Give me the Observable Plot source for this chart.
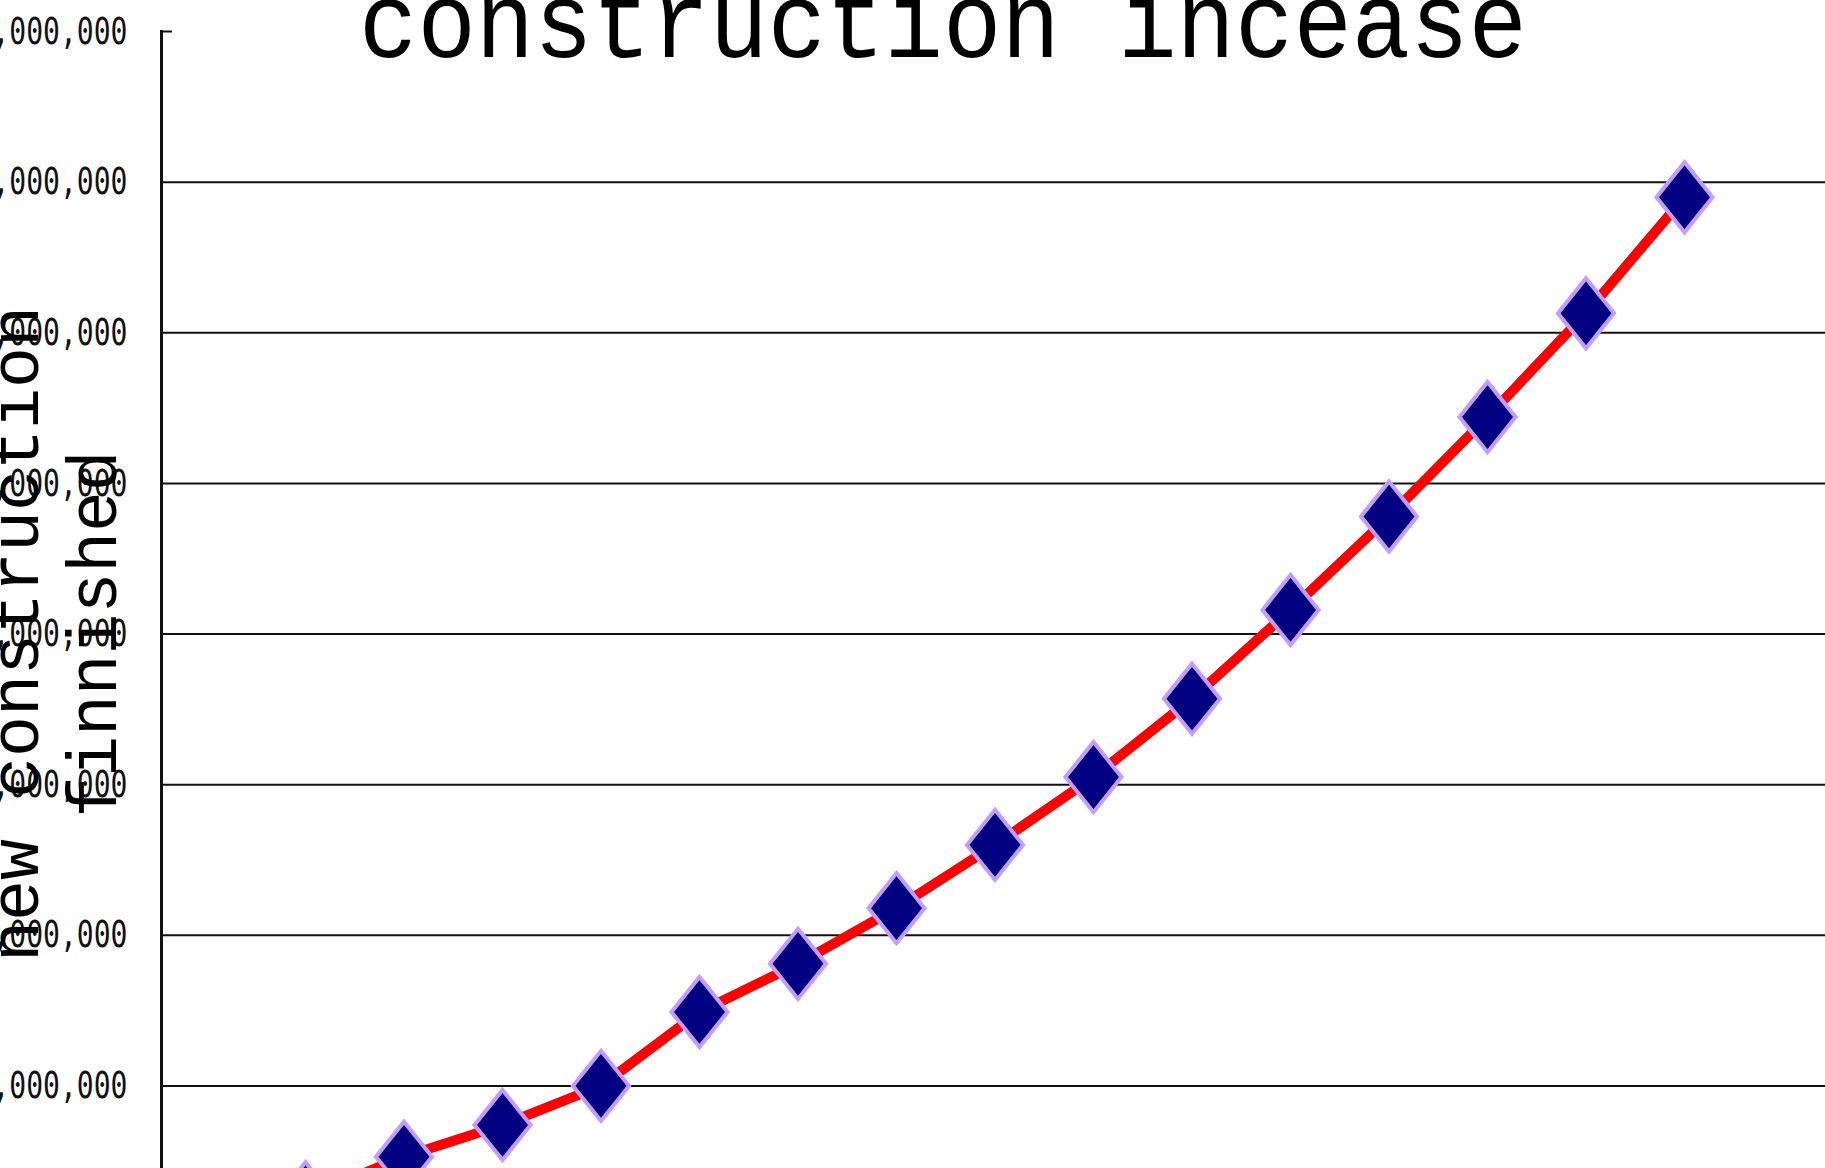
<!DOCTYPE html>
<html><head><meta charset="utf-8">
<script src="https://cdn.jsdelivr.net/npm/d3@7"></script>
<script src="https://cdn.jsdelivr.net/npm/@observablehq/plot@0.6"></script>
<style>
html,body{margin:0;padding:0;background:#fff;}
#wrap{position:relative;width:1825px;height:1168px;overflow:hidden;background:#fff;}
#wrap svg{position:absolute;left:-100px;top:-100px;max-width:none !important;}
</style></head><body><div id="wrap"></div>
<script>
// categories (periods; their labels are cropped out of the picture)
const periods = [1, 2, 3, 4, 5, 6, 7, 8, 9, 10, 11, 12, 13, 14, 15];
// new construction finished
const finished = [260000, 530000, 740000, 1000000, 1490000, 1810000, 2180000, 2600000,
                  3050000, 3570000, 4160000, 4780000, 5440000, 6130000, 6900000];
// y tick values
const yTicks = [1000000, 2000000, 3000000, 4000000, 5000000, 6000000, 7000000, 8000000];
const gridValues = [1000000, 2000000, 3000000, 4000000, 5000000, 6000000, 7000000];
const titleText = "construction incease";
const yTitleLines = ["new construction", "finnished"];

const data = periods.map((p, i) => ({period: p, value: finished[i]}));

const W = 1930, H = 1340, ML = 261, MT = 131, MR = 0, MB = 4;
const diamond = {
  draw(ctx, size) {
    const h = Math.sqrt(size / 1.6), w = 0.8 * h;
    ctx.moveTo(0, -h); ctx.lineTo(w, 0); ctx.lineTo(0, h); ctx.lineTo(-w, 0); ctx.closePath();
  }
};

const chart = Plot.plot({
  width: W, height: H,
  marginLeft: ML, marginTop: MT, marginRight: MR, marginBottom: MB,
  style: {background: "white", color: "#000"},
  x: {domain: [1, 15], range: [405, 1784], axis: null},
  y: {domain: [0, 8000000], axis: null},
  marks: [
    Plot.ruleY(gridValues, {stroke: "#111", strokeWidth: 2}),
    Plot.tickY([yTicks[yTicks.length - 1]], {stroke: "#111", strokeWidth: 2, insetRight: W - MR - ML - 11}),
    Plot.frame({anchor: "left", stroke: "#111", strokeWidth: 3}),
    Plot.axisY(yTicks, {anchor: "left", tickSize: 0, tickPadding: 34, tickFormat: d3.format(","),
      fontSize: 38, fontFamily: "DejaVu Sans Mono", fill: "#111"}),
    Plot.text([yTitleLines[0]], {text: d => d, frameAnchor: "left", rotate: -90, dx: -124,
      lineAnchor: "bottom", textAnchor: "middle", fontSize: 70, fontFamily: "Liberation Mono", fill: "#000"}),
    Plot.text([yTitleLines[1]], {text: d => d, frameAnchor: "left", rotate: -90, dx: -46,
      lineAnchor: "bottom", textAnchor: "middle", fontSize: 70, fontFamily: "Liberation Mono", fill: "#000"}),
    Plot.line(data, {x: "period", y: "value", stroke: "#ff0000", strokeWidth: 10, strokeLinejoin: "round"}),
    Plot.dot(data, {x: "period", y: "value", symbol: diamond, r: 25, fill: "#000080",
      stroke: "#c49cff", strokeWidth: 4}),
    Plot.text([titleText], {text: d => d, frameAnchor: "top", lineAnchor: "bottom", dy: 25, dx: -53,
      fontSize: 108, fontFamily: "Liberation Mono", fill: "#000"})
  ]
});

const s = d3.select(chart);
s.selectAll('g[aria-label="y-axis tick label"] text')
  .attr("textLength", 152).attr("lengthAdjust", "spacingAndGlyphs");
s.selectAll("text").each(function () {
  const t = this.textContent;
  let len = null;
  if (t === titleText) len = 1168;
  else if (t === yTitleLines[0]) len = 656;
  else if (t === yTitleLines[1]) len = 367;
  if (len) { this.setAttribute("textLength", len); this.setAttribute("lengthAdjust", "spacingAndGlyphs"); }
});
document.getElementById("wrap").appendChild(chart);
</script>
</body></html>
